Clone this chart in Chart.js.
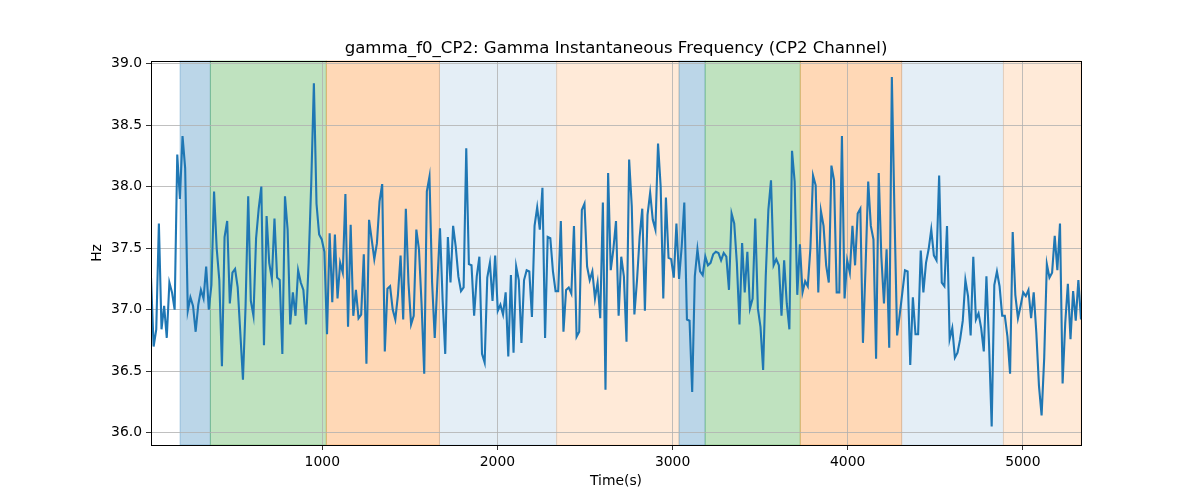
<!DOCTYPE html>
<html><head><meta charset="utf-8">
<script src="https://cdn.jsdelivr.net/npm/chart.js@4/dist/chart.umd.min.js"></script>
<style>html,body{margin:0;padding:0;background:#fff}</style>
</head><body>
<canvas id="c" width="1200" height="500"></canvas>
<script>
const values = [
37.26,36.70,36.84,37.70,36.84,37.03,36.77,37.22,37.14,37.00,
38.26,37.90,38.41,38.15,36.99,37.10,37.03,36.82,37.04,37.16,
37.09,37.35,37.00,37.20,37.96,37.50,37.24,36.54,37.59,37.72,
37.05,37.30,37.33,37.18,36.81,36.43,37.03,37.92,37.07,36.95,
37.58,37.82,38.00,36.71,37.76,37.38,37.25,37.74,37.26,37.24,
36.64,37.92,37.65,36.88,37.14,36.95,37.32,37.22,37.16,
36.88,37.38,38.03,38.84,37.86,37.61,37.57,37.47,36.80,37.62,
37.06,37.61,37.09,37.38,37.30,37.94,36.86,37.69,36.95,37.16,
36.93,36.96,37.45,36.56,37.73,37.57,37.41,37.54,37.88,38.02,
36.66,37.17,37.19,37.00,36.92,37.12,37.44,36.92,37.82,37.22,
36.88,36.95,37.65,37.49,37.04,36.48,37.96,38.08,37.22,36.77,
37.22,37.66,37.08,36.64,37.59,37.22,37.68,37.51,37.27,
37.15,37.18,38.31,37.37,37.36,36.95,37.27,37.43,36.64,36.57,
37.26,37.38,37.07,37.44,36.99,37.04,36.96,37.14,36.62,37.28,
36.65,37.35,37.24,36.73,37.24,37.32,37.31,36.94,37.68,37.83,
37.65,37.99,36.77,37.59,37.58,37.31,37.15,37.15,37.72,36.82,
37.16,37.18,37.13,37.68,36.78,36.82,37.81,37.86,37.35,37.24,
37.31,37.09,37.22,36.93,37.87,36.35,38.11,37.32,37.49,
37.72,36.95,37.43,37.27,36.74,38.22,37.84,36.96,37.24,37.59,
37.82,36.99,37.77,37.95,37.73,37.65,38.35,38.00,37.09,37.91,
37.42,37.41,37.26,37.70,37.25,37.51,37.87,36.92,36.91,36.33,
37.27,37.49,37.31,37.28,37.43,37.36,37.38,37.45,37.47,37.46,
37.40,37.46,37.43,37.16,37.78,37.70,37.38,36.88,37.54,37.14,
37.47,37.01,37.09,37.74,37.01,36.86,36.51,37.27,37.81,38.05,
37.36,37.41,37.36,36.95,37.40,37.05,36.84,38.29,38.04,37.12,
37.53,37.14,37.23,37.19,37.50,38.09,38.01,37.14,37.80,37.68,
37.36,37.22,38.17,38.05,37.14,37.14,38.41,37.09,37.40,37.30,
37.68,37.36,37.78,37.82,36.73,37.35,38.04,37.68,37.57,36.60,
38.11,37.43,37.05,37.49,36.69,38.89,37.78,36.79,36.96,37.14,
37.32,37.31,36.55,37.10,36.80,36.80,37.48,37.14,37.38,
37.49,37.65,37.44,37.40,38.09,37.22,37.19,37.68,36.76,36.85,
36.61,36.65,36.76,36.91,37.24,37.11,36.79,37.43,36.92,36.97,
36.85,36.66,37.27,36.72,36.05,37.20,37.31,37.19,36.95,36.95,
36.78,36.48,37.63,37.12,36.93,37.03,37.14,37.11,37.16,36.93,
37.14,36.81,36.38,36.14,36.61,37.37,37.26,37.30,37.60,37.32,
37.70,36.40,36.89,37.21,36.76,37.15,36.91,37.24,36.92
];
const tStart = 22;
const tStep = 15;
const spanEdges = [188,361,1023,1669,2338,3037,3186,3729,4308,4889,5332];
const spanColors = [
 'rgba(31,119,180,0.30)','rgba(44,160,44,0.30)','rgba(255,127,14,0.30)',
 'rgba(31,119,180,0.12)','rgba(255,127,14,0.16)',
 'rgba(31,119,180,0.30)','rgba(44,160,44,0.30)','rgba(255,127,14,0.30)',
 'rgba(31,119,180,0.12)','rgba(255,127,14,0.16)'
];
const xTicks = [1000,2000,3000,4000,5000];
const yTicks = [36.0,36.5,37.0,37.5,38.0,38.5,39.0];
const titleText = 'gamma_f0_CP2: Gamma Instantaneous Frequency (CP2 Channel)';
const xLabel = 'Time(s)';
const yLabel = 'Hz';

const points = values.map((v,i)=>({x: tStart + i*tStep, y: v}));
const tEnd = points[points.length-1].x;
const FONT = "'DejaVu Sans', sans-serif";

const deco = {
  id:'deco',
  beforeDraw(chart){
    const {ctx, chartArea:a, scales:{x}} = chart;
    ctx.save();
    ctx.fillStyle='#fff'; ctx.fillRect(0,0,chart.width,chart.height);
    for(let i=0;i<spanColors.length;i++){
      const x0 = x.getPixelForValue(spanEdges[i]);
      const x1 = x.getPixelForValue(spanEdges[i+1]);
      ctx.fillStyle = spanColors[i];
      ctx.fillRect(x0, a.top, x1-x0, a.bottom-a.top);
      ctx.strokeStyle = spanColors[i]; ctx.lineWidth=1;
      ctx.strokeRect(x0, a.top, x1-x0, a.bottom-a.top);
    }
    ctx.restore();
  },
  afterDraw(chart){
    const {ctx, chartArea:a} = chart;
    ctx.save();
    ctx.strokeStyle='#000'; ctx.lineWidth=1;
    ctx.strokeRect(Math.round(a.left)+0.5, Math.round(a.top)+0.5, Math.round(a.right-a.left), Math.round(a.bottom-a.top));
    ctx.fillStyle='#000';
    ctx.textAlign='center';
    ctx.textBaseline='alphabetic';
    ctx.font = "16.6px "+FONT;
    ctx.fillText(titleText, (a.left+a.right)/2, a.top-8.3);
    ctx.font = "13.9px "+FONT;
    ctx.textBaseline='middle';
    ctx.fillText(xLabel, (a.left+a.right)/2, 481);
    ctx.translate(97, (a.top+a.bottom)/2);
    ctx.rotate(-Math.PI/2);
    ctx.fillText(yLabel, 0, 0);
    ctx.restore();
  }
};

new Chart(document.getElementById('c'), {
  type:'line',
  data:{datasets:[{data:points, borderColor:'#1f77b4', borderWidth:2.1, pointRadius:0, tension:0, fill:false}]},
  options:{
    responsive:false, animation:false, devicePixelRatio:1,
    layout:{padding:{left:0, top:61, right:119, bottom:0}},
    plugins:{legend:{display:false}, title:{display:false}, tooltip:{enabled:false}},
    scales:{
      x:{type:'linear', min:tStart, max:tEnd,
        afterFit(s){ s.height = 55; },
        afterBuildTicks(s){ s.ticks = xTicks.map(v=>({value:v})); },
        ticks:{color:'#000', font:{family:FONT, size:13.9}, padding:4, maxRotation:0, autoSkip:false, callback:v=>String(v)},
        grid:{color:'#b0b0b0', lineWidth:0.8, tickColor:'#000', tickLength:5, drawTicks:true},
        border:{display:false}
      },
      y:{type:'linear', min:35.9, max:39.02,
        afterFit(s){ s.width = 151; },
        afterBuildTicks(s){ s.ticks = yTicks.map(v=>({value:v})); },
        ticks:{color:'#000', font:{family:FONT, size:13.9}, padding:4, autoSkip:false, callback:v=>Number(v).toFixed(1)},
        grid:{color:'#b0b0b0', lineWidth:0.8, tickColor:'#000', tickLength:5, drawTicks:true},
        border:{display:false}
      }
    }
  },
  plugins:[deco]
});
</script>
</body></html>
